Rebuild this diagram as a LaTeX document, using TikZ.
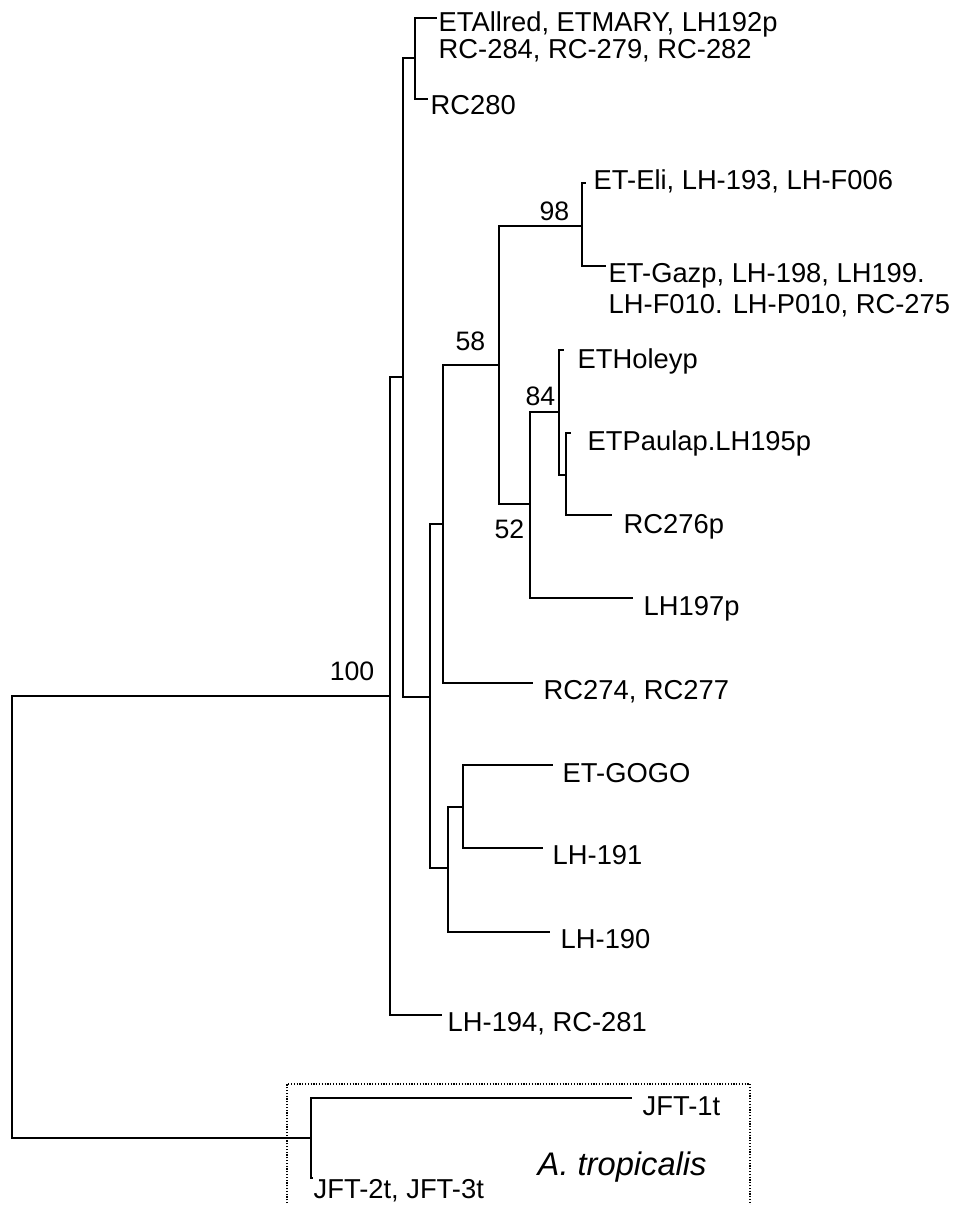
\documentclass[tikz,border=0pt]{standalone}
\usepackage{fontspec}
\setmainfont{Liberation Sans}

\tikzset{every picture/.style={line width=1.1pt}}
\tikzset{
  leaf/.style={anchor=base west, inner sep=0pt, font=\fontsize{20.5}{24}\selectfont},
  boot/.style={anchor=base east, inner sep=0pt, font=\fontsize{20}{24}\selectfont},
  clade/.style={line width=0.9pt, dash pattern=on 0.9pt off 1.2pt},
}

\begin{document}
\begin{tikzpicture}[x=0.75pt,y=0.75pt,yscale=-1,xscale=1]
        \useasboundingbox (0,0) rectangle (956,1205);

        % inner nodes of the tree
        \coordinate (root) at (12,917);
        \coordinate (n100) at (390,696);
        \coordinate (nA) at (403,377);
        \coordinate (nAll) at (415,58);
        \coordinate (nB) at (430,697);
        \coordinate (nC) at (443,524);
        \coordinate (n58) at (499,365);
        \coordinate (n98) at (582,226);
        \coordinate (n52) at (530,504);
        \coordinate (n84) at (559,412);
        \coordinate (nPaul) at (566,475);
        \coordinate (nD) at (448,868);
        \coordinate (nE) at (463,807);
        \coordinate (nTrop) at (311,1138);

        % branch tips
        \coordinate (eAllred) at (437,18);
        \coordinate (eRC280) at (428,99);
        \coordinate (eEli) at (586,183);
        \coordinate (eGazp) at (606,266);
        \coordinate (eHoley) at (564,350);
        \coordinate (ePaul) at (571,433);
        \coordinate (eRC276) at (612,515);
        \coordinate (eLH197) at (633,598);
        \coordinate (eRC274) at (533,683);
        \coordinate (eGogo) at (553,765);
        \coordinate (eLH191) at (543,848);
        \coordinate (eLH190) at (550,932);
        \coordinate (eLH194) at (442,1015);
        \coordinate (eJFT1) at (632,1098);
        \coordinate (eJFT2) at (313,1178);

        \draw (root) |- (n100);
        \draw (root) |- (nTrop);
        \draw (n100) |- (nA);
        \draw (n100) |- (eLH194);
        \draw (nA) |- (nAll);
        \draw (nA) |- (nB);
        \draw (nAll) |- (eAllred);
        \draw (nAll) |- (eRC280);
        \draw (nB) |- (nC);
        \draw (nB) |- (nD);
        \draw (nC) |- (n58);
        \draw (nC) |- (eRC274);
        \draw (n58) |- (n98);
        \draw (n58) |- (n52);
        \draw (n98) |- (eEli);
        \draw (n98) |- (eGazp);
        \draw (n52) |- (n84);
        \draw (n52) |- (eLH197);
        \draw (n84) |- (eHoley);
        \draw (n84) |- (nPaul);
        \draw (nPaul) |- (ePaul);
        \draw (nPaul) |- (eRC276);
        \draw (nD) |- (nE);
        \draw (nD) |- (eLH190);
        \draw (nE) |- (eGogo);
        \draw (nE) |- (eLH191);
        \draw (nTrop) |- (eJFT1);
        \draw (nTrop) |- (eJFT2);

        % outgroup box
        \draw [clade] (287,1206) -- (287,1084) -- (750,1084) -- (750,1206);

        \draw (438,32) node [leaf,font=\fontsize{20.5}{19.5}\selectfont] (allred) {\begin{tabular}[t]{@{}l@{}}ETAllred, ETMARY, LH192p\\RC-284, RC-279, RC-282\end{tabular}};
        \draw (430,115) node [leaf] (rc280) {RC280};
        \draw (593,190) node [leaf] (eli) {ET-Eli, LH-193, LH-F006};
        \draw (608,282) node [leaf,font=\fontsize{20.5}{24}\selectfont] (gazp) {\begin{tabular}[t]{@{}l@{}}ET-Gazp, LH-198, LH199.\\LH-F010. LH-P010, RC-275\end{tabular}};
        \draw (577,368) node [leaf] (holey) {ETHoleyp};
        \draw (587,450) node [leaf] (paula) {ETPaulap.LH195p};
        \draw (623,533) node [leaf] (rc276) {RC276p};
        \draw (643,615) node [leaf] (lh197) {LH197p};
        \draw (543,699) node [leaf] (rc274) {RC274, RC277};
        \draw (562,782) node [leaf] (gogo) {ET-GOGO};
        \draw (552,864) node [leaf] (lh191) {LH-191};
        \draw (560,948) node [leaf] (lh190) {LH-190};
        \draw (447,1031) node [leaf] (lh194) {LH-194, RC-281};
        \draw (642,1115) node [leaf] (jft1) {JFT-1t};
        \draw (313,1198) node [leaf] (jft2) {JFT-2t, JFT-3t};
        \draw (537,1175) node [leaf,font=\fontsize{24.5}{28}\itshape] (trop) {A. tropicalis};

        \draw (375,680) node [boot] (b100) {100};
        \draw (570,221) node [boot] (b98) {98};
        \draw (486,350) node [boot] (b58) {58};
        \draw (556,405) node [boot] (b84) {84};
        \draw (525,538) node [boot] (b52) {52};
    \end{tikzpicture}
\end{document}
